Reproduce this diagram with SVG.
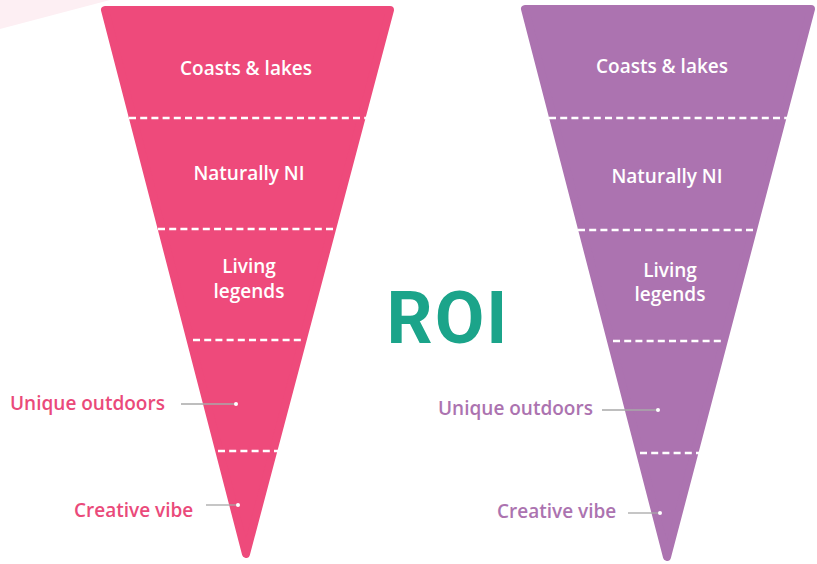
<svg xmlns="http://www.w3.org/2000/svg" width="817" height="564" viewBox="0 0 817 564">
  <style>
    .pink { fill: #EE4A7B; stroke: #EE4A7B; stroke-width: 8; stroke-linejoin: round; }
    .purple { fill: #AC73B0; stroke: #AC73B0; stroke-width: 8; stroke-linejoin: round; }
    .dash { stroke: #FFFFFF; stroke-width: 2.6; stroke-dasharray: 7 4.2; fill: none; }
    .in { font-family: "Open Sans", "Liberation Sans", sans-serif; font-weight: 600; font-size: 19px; fill: #FFFFFF; text-anchor: middle; }
    .lbl { font-family: "Open Sans", "Liberation Sans", sans-serif; font-weight: 600; font-size: 19px; }
    .lp { fill: #EA4A7A; }
    .lu { fill: #AC73B0; }
    .lead { stroke: #A8A8A8; stroke-width: 1.3; fill: none; }
    .dot { fill: #FFFFFF; }
    .roi { font-family: Roboto, "Liberation Sans", sans-serif; font-weight: 700; font-size: 72px; letter-spacing: 2px; fill: #1BA48A; }
  </style>
  <rect width="817" height="564" fill="#FFFFFF"/>
  <polygon points="0,0 110,0 0,29" fill="#FDEFF3"/>

  <g id="funnel-left">
    <polygon class="pink" points="105,10 390,10 246,554"/>
    <text class="in" x="246" y="75">Coasts &amp; lakes</text>
    <text class="in" x="249" y="180">Naturally NI</text>
    <text class="in" x="249" y="273">Living</text>
    <text class="in" x="249" y="298">legends</text>
    <line class="dash" x1="129" y1="118" x2="366" y2="118"/>
    <line class="dash" x1="158" y1="229" x2="333" y2="229"/>
    <line class="dash" x1="193" y1="340" x2="305" y2="340"/>
    <line class="dash" x1="218" y1="451" x2="279" y2="451"/>
  </g>

  <g id="funnel-right">
    <polygon class="purple" points="525,9 811,9 667,557"/>
    <text class="in" x="662" y="73">Coasts &amp; lakes</text>
    <text class="in" x="667" y="183">Naturally NI</text>
    <text class="in" x="670" y="277">Living</text>
    <text class="in" x="670" y="301">legends</text>
    <line class="dash" x1="549" y1="118" x2="787" y2="118"/>
    <line class="dash" x1="578" y1="230" x2="757" y2="230"/>
    <line class="dash" x1="613" y1="341" x2="725" y2="341"/>
    <line class="dash" x1="640" y1="453" x2="699" y2="453"/>
  </g>

  <g id="roi">
    <text class="roi" x="448" y="343" text-anchor="middle">ROI</text>
  </g>

  <g id="label-left-unique">
    <text class="lbl lp" x="10" y="410">Unique outdoors</text>
  </g>
  <g id="label-left-creative">
    <text class="lbl lp" x="74" y="517">Creative vibe</text>
  </g>
  <g id="label-right-unique">
    <text class="lbl lu" x="438" y="415">Unique outdoors</text>
  </g>
  <g id="label-right-creative">
    <text class="lbl lu" x="497" y="518">Creative vibe</text>
  </g>

  <g id="connectors">
    <line class="lead" x1="181" y1="404" x2="236" y2="404"/>
    <circle class="dot" cx="236" cy="404" r="2"/>
    <line class="lead" x1="206" y1="505" x2="238" y2="505"/>
    <circle class="dot" cx="238" cy="505" r="2"/>
    <line class="lead" x1="602" y1="410" x2="658" y2="410"/>
    <circle class="dot" cx="658" cy="410" r="2"/>
    <line class="lead" x1="628" y1="513" x2="660" y2="513"/>
    <circle class="dot" cx="660" cy="513" r="2"/>
  </g>
</svg>
